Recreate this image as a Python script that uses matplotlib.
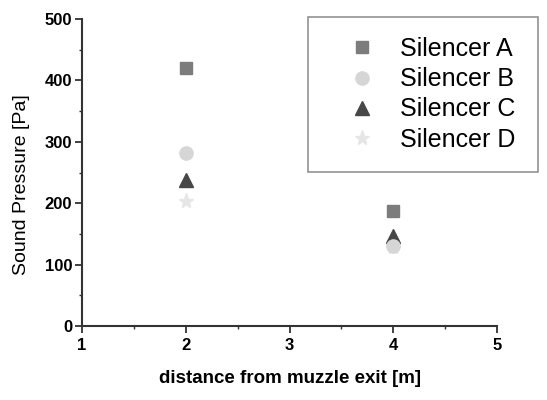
#!/usr/bin/env python
# coding: utf-8

r"""Sound pressure vs distance from muzzle exit for four silencers"""

import matplotlib
matplotlib.use("Agg")
import matplotlib.pyplot as plt

plt.rcParams['font.family'] = ['Liberation Sans', 'DejaVu Sans']

distance = [2, 4]
silencer_a = [420, 187]
silencer_b = [281, 130]
silencer_c = [238, 147]
silencer_d = [204, 128]
labels = ['Silencer A', 'Silencer B', 'Silencer C', 'Silencer D']

fig = plt.figure(figsize=(5.47, 4.0), dpi=100)
ax = fig.add_axes([0.150, 0.185, 0.7586, 0.7675])

# (values, marker, size, colour, zorder)
styles = [
    (silencer_a, 's', 8, '#7c7c7c', 3),
    (silencer_b, 'o', 9.5, '#d6d6d6', 5),
    (silencer_c, '^', 10.5, '#474747', 4),
    (silencer_d, '*', 11, '#e6e6e6', 3.5),
]

handles = []
for (y, marker, ms, color, z), label in zip(styles, labels):
    h, = ax.plot(distance, y, linestyle='none', marker=marker, markersize=ms,
                 color=color, markeredgecolor=color, zorder=z, label=label,
                 clip_on=False)
    handles.append(h)

ax.set_xlim(1, 5)
ax.set_ylim(0, 500)
ax.set_xticks([1, 2, 3, 4, 5])
ax.set_xticks([1.5, 2.5, 3.5, 4.5], minor=True)
ax.set_yticks([0, 100, 200, 300, 400, 500])
ax.set_yticks([50, 150, 250, 350, 450], minor=True)

for side in ['top', 'right']:
    ax.spines[side].set_visible(False)
for side in ['left', 'bottom']:
    ax.spines[side].set_linewidth(1.5)
    ax.spines[side].set_color('#333333')

ax.tick_params(which='major', direction='out', length=5, width=1.3,
               color='#333333', labelsize=12, pad=2)
ax.tick_params(axis='x', which='major', pad=4)
ax.tick_params(which='minor', direction='out', length=2.5, width=1.0,
               color='#333333')
for lbl in ax.get_xticklabels() + ax.get_yticklabels():
    lbl.set_fontweight('bold')

ax.set_xlabel('distance from muzzle exit [m]', fontsize=13.5,
              fontweight='bold', labelpad=12)
ax.set_ylabel('Sound Pressure [Pa]', fontsize=14)
ax.yaxis.set_label_coords(-0.125, 0.459)

# legend box spans x 308..538, y 17..172 px
leg = fig.legend(handles=handles, loc='upper left',
                 bbox_to_anchor=(308 / 547, 1 - 172 / 400, 230 / 547, 155 / 400),
                 bbox_transform=fig.transFigure, mode='expand',
                 fontsize=18, frameon=True, fancybox=False,
                 borderpad=0.8, labelspacing=0.25, handletextpad=0.2,
                 handlelength=2.7, borderaxespad=0)
leg.get_frame().set_edgecolor('#777777')
leg.get_frame().set_linewidth(1.2)

fig.savefig('out.png', dpi=100)
